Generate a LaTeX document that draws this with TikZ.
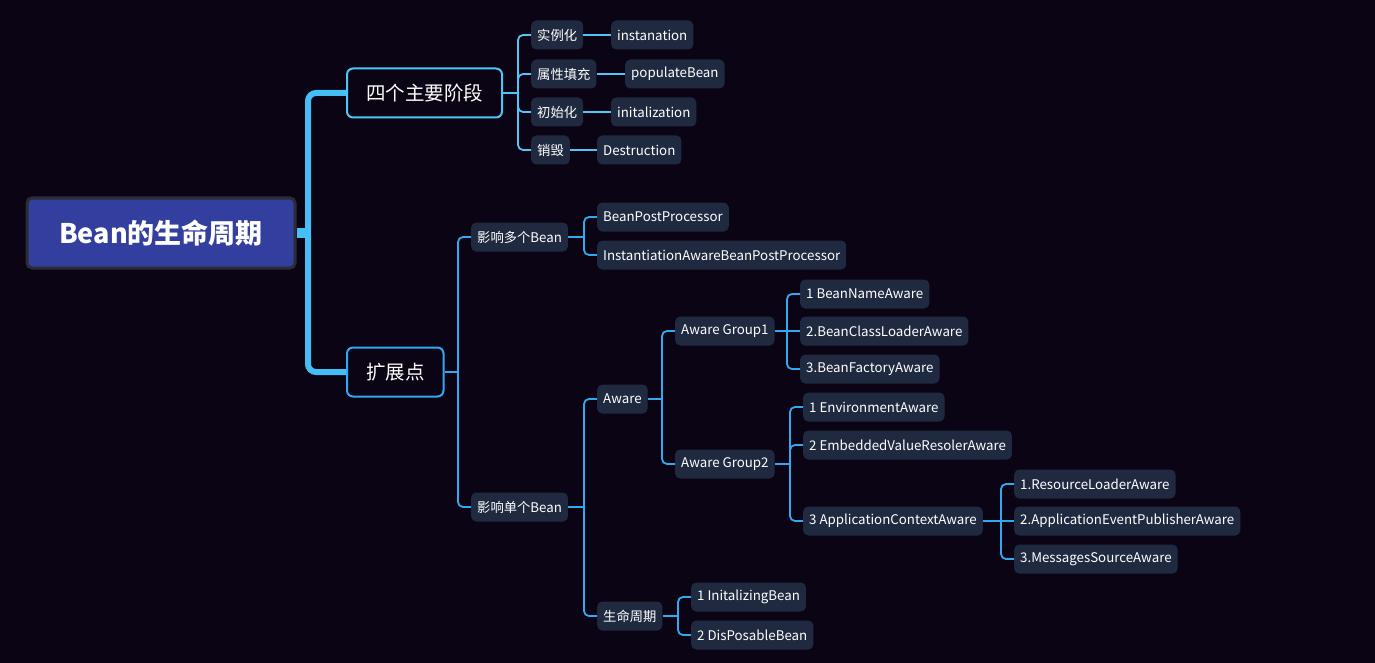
\documentclass[tikz,border=0pt]{standalone}
\usepackage{fontspec}
\setmainfont{Noto Sans CJK SC}
\usepackage{tikz}
\usetikzlibrary{positioning}
\definecolor{bgc}{HTML}{0A0414}
\definecolor{leafc}{HTML}{1F2940}
\definecolor{rootc}{HTML}{323F9E}
\definecolor{rootedge}{HTML}{2C2C34}
\definecolor{trunkc}{HTML}{45BDF5}
\definecolor{cyanc}{HTML}{4FC6F5}
\definecolor{linkc}{HTML}{31A9F0}

\begin{document}
\begin{tikzpicture}[x=1pt,y=-1pt]
\tikzset{
  leaf/.style={rectangle,rounded corners=5pt,fill=leafc,text=white,anchor=west,
    minimum height=29pt,inner xsep=6pt,inner ysep=0pt,font=\fontsize{13.3}{15}\selectfont},
  mainbox/.style={rectangle,rounded corners=6pt,draw=cyanc,line width=2pt,fill=bgc,text=white,
    anchor=west,minimum height=49pt,inner xsep=19pt,font=\fontsize{19.5}{22}\selectfont},
  rootbox/.style={rectangle,rounded corners=5pt,draw=rootedge,line width=3pt,fill=rootc,text=white,
    minimum width=268pt,minimum height=70pt,font=\bfseries\fontsize{27}{30}\selectfont},
  trunk/.style={draw=trunkc,line width=6pt,rounded corners=8pt},
  link/.style={draw=linkc,line width=1.8pt,rounded corners=5pt},
  clink/.style={link,draw=cyanc}
}
\fill[bgc] (0,0) rectangle (1375,663);

% root and main branches
\node[rootbox] (root) at (161,233) {Bean的生命周期};
\node[mainbox] (stage) at (346,93) {四个主要阶段};
\node[mainbox,draw=linkc] (ext) at (346,372) {扩展点};

% four stages
\node[leaf] (inst) at (531,35) {实例化};
\node[leaf] (instE) at (611,35) {instanation};
\node[leaf] (attr) at (531,74) {属性填充};
\node[leaf] (attrE) at (625,74) {populateBean};
\node[leaf] (init) at (531,112) {初始化};
\node[leaf] (initE) at (611,112) {initalization};
\node[leaf] (dest) at (531,150) {销毁};
\node[leaf] (destE) at (597,150) {Destruction};

% extension points
\node[leaf] (multi) at (471,237) {影响多个Bean};
\node[leaf] (bpp) at (597,217) {BeanPostProcessor};
\node[leaf] (iabpp) at (597,255) {InstantiationAwareBeanPostProcessor};
\node[leaf] (single) at (471,507) {影响单个Bean};
\node[leaf] (aware) at (597,399) {Aware};
\node[leaf] (grpA) at (675,331) {Aware Group1};
\node[leaf] (bna) at (800,294) {1 BeanNameAware};
\node[leaf] (bcla) at (800,331) {2.BeanClassLoaderAware};
\node[leaf] (bfa) at (800,369) {3.BeanFactoryAware};
\node[leaf] (grpB) at (675,464) {Aware Group2};
\node[leaf] (env) at (803,407) {1 EnvironmentAware};
\node[leaf] (evr) at (803,445) {2 EmbeddedValueResolerAware};
\node[leaf] (aca) at (803,521) {3 ApplicationContextAware};
\node[leaf] (rla) at (1014,484) {1.ResourceLoaderAware};
\node[leaf] (aepa) at (1014,521) {2.ApplicationEventPublisherAware};
\node[leaf] (msa) at (1014,559) {3.MessagesSourceAware};
\node[leaf] (life) at (597,616) {生命周期};
\node[leaf] (ib) at (691,597) {1 InitalizingBean};
\node[leaf] (db) at (691,635) {2 DisPosableBean};

% trunk
\coordinate (b0) at (308,233);
\draw[trunk,line width=10pt] (root.east) -- (b0);
\draw[trunk] (b0) |- (stage.west);
\draw[trunk] (b0) |- (ext.west);

% bus points
\coordinate (b1) at (518,93);
\coordinate (b2) at (458,372);
\coordinate (b3) at (584,237);
\coordinate (b4) at (584,507);
\coordinate (b5) at (662,399);
\coordinate (b6) at (787,331);
\coordinate (b7) at (790,464);
\coordinate (b8) at (1001,521);
\coordinate (b9) at (678,616);

\draw[clink] (stage.east) -- (b1);
\foreach \n in {inst,attr,init,dest} \draw[clink] (b1) |- (\n.west);
\draw[clink] (inst) -- (instE);
\draw[clink] (attr) -- (attrE);
\draw[clink] (init) -- (initE);
\draw[clink] (dest) -- (destE);

\draw[link] (ext.east) -- (b2);
\foreach \n in {multi,single} \draw[link] (b2) |- (\n.west);
\draw[link] (multi.east) -- (b3);
\foreach \n in {bpp,iabpp} \draw[link] (b3) |- (\n.west);
\draw[link] (single.east) -- (b4);
\foreach \n in {aware,life} \draw[link] (b4) |- (\n.west);
\draw[link] (aware.east) -- (b5);
\foreach \n in {grpA,grpB} \draw[link] (b5) |- (\n.west);
\draw[link] (grpA.east) -- (bcla.west);
\foreach \n in {bna,bfa} \draw[link] (b6) |- (\n.west);
\draw[link] (grpB.east) -- (b7);
\foreach \n in {env,evr,aca} \draw[link] (b7) |- (\n.west);
\draw[link] (aca.east) -- (aepa.west);
\foreach \n in {rla,msa} \draw[link] (b8) |- (\n.west);
\draw[link] (life.east) -- (b9);
\foreach \n in {ib,db} \draw[link] (b9) |- (\n.west);
\end{tikzpicture}
\end{document}
